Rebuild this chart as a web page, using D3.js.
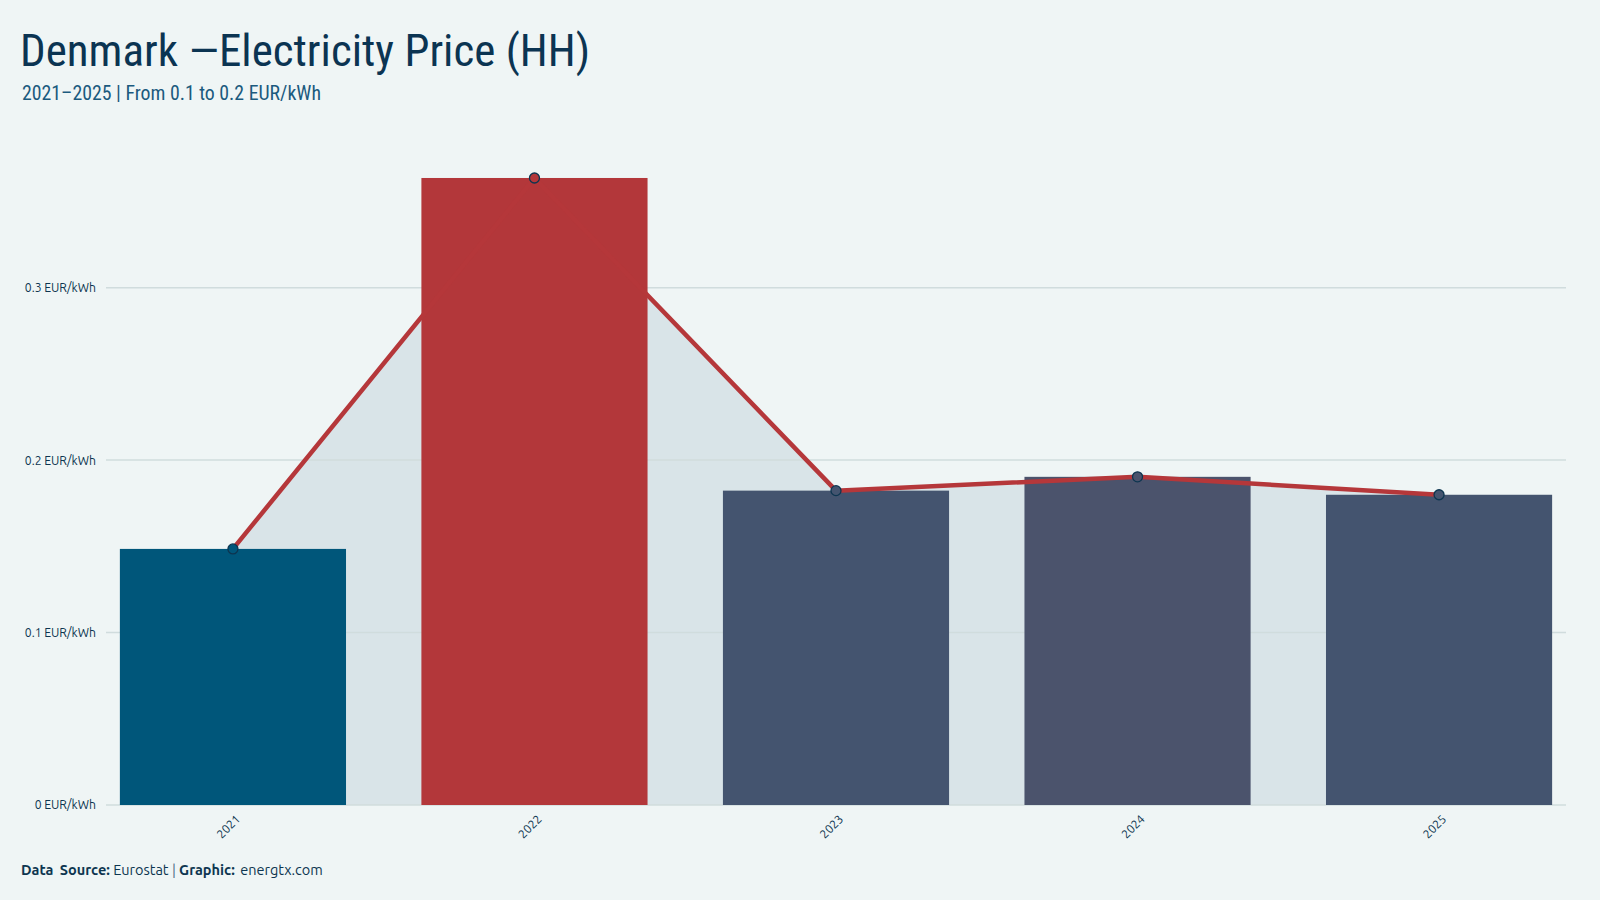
<!DOCTYPE html>
<html>
<head>
<meta charset="utf-8">
<script src="https://cdn.jsdelivr.net/npm/d3@7"></script>
<style>
  html, body { margin: 0; padding: 0; background: #eff5f5; }
  svg { display: block; }
</style>
</head>
<body>
<svg id="chart" width="1600" height="900"></svg>
<script>
// ---- data ----
const years = ["2021", "2022", "2023", "2024", "2025"];
const prices = [0.1485, 0.3636, 0.1823, 0.1903, 0.1799];
const barColors = ["#00567a", "#b3373a", "#44546f", "#4b536c", "#44546f"];
const yTickValues = [0, 0.1, 0.2, 0.3];
const yTickLabels = ["0 EUR/kWh", "0.1 EUR/kWh", "0.2 EUR/kWh", "0.3 EUR/kWh"];
const titleText = "Denmark —Electricity Price (HH)";
const subtitleText = "2021–2025 | From 0.1 to 0.2 EUR/kWh";

(function () {
const data = years.map((yr, i) => ({ year: yr, value: prices[i], color: barColors[i] }));

const svg = d3.select("#chart");
const W = 1600, H = 900;
const mLeft = 106, mRight = 1566, mTop = 149.7, mBottom = 805;
const bodyFont = "Ubuntu, 'Noto Sans', 'DejaVu Sans', sans-serif";
const condFont = "'Ubuntu Condensed', 'Roboto Condensed', 'DejaVu Sans Condensed', 'Liberation Sans Narrow', sans-serif";

svg.append("rect").attr("width", W).attr("height", H).attr("fill", "#eff5f5");

const x = d3.scaleBand().domain(years).range([mLeft, mRight]).paddingInner(0.25).paddingOuter(0.046);
const y = d3.scaleLinear().domain([0, 0.38]).range([mBottom, mTop]);
const cx = d => x(d.year) + x.bandwidth() / 2;

// area under line
const area = d3.area().x(cx).y0(y(0)).y1(d => y(d.value));
svg.append("path").datum(data).attr("d", area).attr("fill", "#d9e4e8");

// gridlines
svg.append("g").selectAll("line").data(yTickValues).join("line")
  .attr("x1", mLeft).attr("x2", mRight)
  .attr("y1", d => y(d)).attr("y2", d => y(d))
  .attr("stroke", "#d0dcdd").attr("stroke-width", 1.5);

// y axis labels
const yAxis = d3.axisLeft(y).tickValues(yTickValues).tickSize(0)
  .tickFormat((d, i) => yTickLabels[i]);
const gy = svg.append("g").attr("transform", `translate(${mLeft - 10},0)`).call(yAxis);
gy.select(".domain").remove();
gy.selectAll("text").attr("fill", "#0d3550").attr("font-size", 12.2)
  .attr("font-family", bodyFont).attr("x", 0);

// bars
svg.append("g").selectAll("rect").data(data).join("rect")
  .attr("x", d => x(d.year)).attr("width", x.bandwidth())
  .attr("y", d => y(d.value)).attr("height", d => y(0) - y(d.value))
  .attr("fill", d => d.color);

// line
const line = d3.line().x(cx).y(d => y(d.value));
svg.append("path").datum(data).attr("d", line)
  .attr("fill", "none").attr("stroke", "#b5373a").attr("stroke-width", 4.5)
  .attr("stroke-linejoin", "round");

// points
svg.append("g").selectAll("circle").data(data).join("circle")
  .attr("cx", cx).attr("cy", d => y(d.value)).attr("r", 5)
  .attr("fill", d => d.color).attr("stroke", "#0d3550").attr("stroke-width", 1.3);

// x axis labels
const xAxis = d3.axisBottom(x).tickSize(0);
const gx = svg.append("g").attr("transform", `translate(0,${mBottom})`).call(xAxis);
gx.select(".domain").remove();
gx.selectAll("text")
  .attr("fill", "#0d3550").attr("font-size", 12)
  .attr("font-family", bodyFont)
  .attr("text-anchor", "end")
  .attr("dy", 0).attr("y", 0)
  .attr("transform", "translate(8,15) rotate(-45)");

// title
svg.append("text").attr("x", 20).attr("y", 66)
  .attr("font-family", condFont)
  .attr("font-stretch", "condensed")
  .attr("font-size", 45).attr("fill", "#0b3452")
  .attr("textLength", 570).attr("lengthAdjust", "spacingAndGlyphs")
  .text(titleText);

svg.append("text").attr("x", 22).attr("y", 100)
  .attr("font-family", condFont)
  .attr("font-stretch", "condensed")
  .attr("font-size", 20).attr("fill", "#1b5a7e")
  .attr("textLength", 299).attr("lengthAdjust", "spacingAndGlyphs")
  .text(subtitleText);

// caption
const cap = svg.append("text").attr("x", 21).attr("y", 875)
  .attr("font-family", bodyFont)
  .attr("font-size", 14.5).attr("fill", "#0d3550");
cap.append("tspan").attr("font-weight", "bold").attr("word-spacing", 3).text("Data Source:");
cap.append("tspan").text(" Eurostat ");
cap.append("tspan").attr("fill", "#4d6f88").text("|");
cap.append("tspan").text(" ");
cap.append("tspan").attr("font-weight", "bold").text("Graphic:");
cap.append("tspan").attr("word-spacing", 2).text(" energtx.com");
})();
</script>
</body>
</html>
